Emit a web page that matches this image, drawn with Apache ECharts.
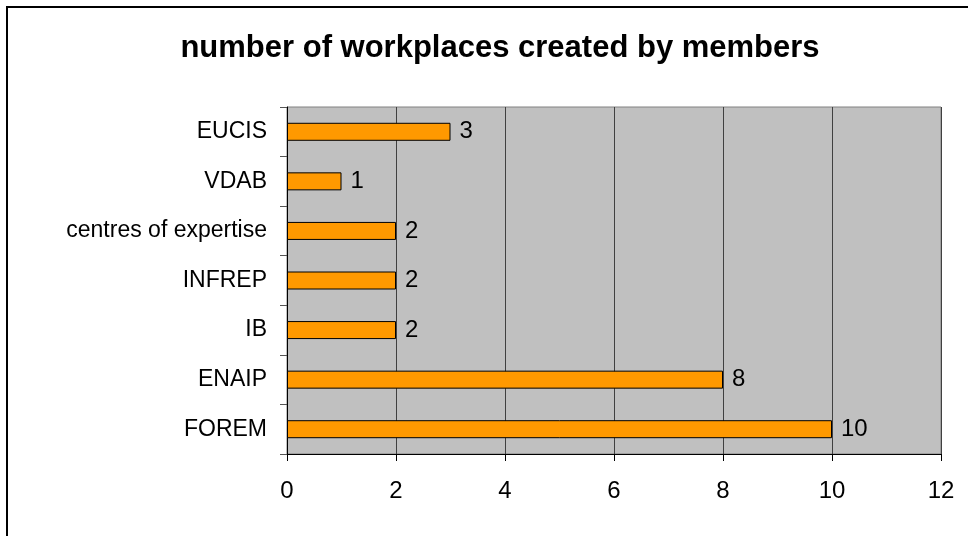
<!DOCTYPE html>
<html>
<head>
<meta charset="utf-8">
<script src="https://cdn.jsdelivr.net/npm/echarts@6/dist/echarts.min.js"></script>
<style>
  html, body { margin: 0; padding: 0; background: #fff; }
  #chart { width: 968px; height: 536px; }
</style>
</head>
<body>
<div id="chart"></div>
<script>
var categories = ['FOREM', 'ENAIP', 'IB', 'INFREP', 'centres of expertise', 'VDAB', 'EUCIS'];
var workplaces = [10, 8, 2, 2, 2, 1, 3];
var xTicks = [0, 2, 4, 6, 8, 10, 12];

var font = '"Liberation Sans", Arial, sans-serif';

var chart = echarts.init(document.getElementById('chart'));
chart.setOption({
    animation: false,
    backgroundColor: '#ffffff',
    title: {
        text: 'number of workplaces created by members',
        left: 495,
        textAlign: 'center',
        top: 28,
        textStyle: {
            fontFamily: font,
            fontSize: 31,
            fontWeight: 'bold',
            color: '#000'
        }
    },
    graphic: [{
        type: 'polyline',
        shape: { points: [[7, 536], [7, 7], [968, 7]] },
        style: { stroke: '#000', lineWidth: 2, fill: null }
    }],
    grid: {
        left: 287,
        right: 27,
        top: 107,
        bottom: 82,
        show: true,
        backgroundColor: '#c0c0c0',
        borderColor: '#808080',
        borderWidth: 1
    },
    xAxis: {
        type: 'value',
        min: xTicks[0],
        max: xTicks[xTicks.length - 1],
        interval: 2,
        axisLine: { show: true, lineStyle: { color: '#000', width: 1 } },
        axisTick: { show: true, length: 7, lineStyle: { color: '#000' } },
        axisLabel: {
            margin: 25,
            fontFamily: font,
            fontSize: 24,
            color: '#000'
        },
        splitLine: { show: true, lineStyle: { color: '#404040', width: 1 } }
    },
    yAxis: {
        type: 'category',
        data: categories,
        axisLine: { show: true, lineStyle: { color: '#000', width: 1 } },
        axisTick: { show: true, length: 7, alignWithLabel: false, lineStyle: { color: '#555' } },
        axisLabel: {
            margin: 20,
            fontFamily: font,
            fontSize: 23,
            color: '#000'
        },
        splitLine: { show: false }
    },
    series: [{
        type: 'bar',
        data: workplaces,
        barWidth: 18,
        itemStyle: {
            color: '#ff9900',
            borderColor: '#000',
            borderWidth: 1
        },
        label: {
            show: true,
            position: 'right',
            distance: 9,
            fontFamily: font,
            fontSize: 24,
            color: '#000'
        }
    }]
});
</script>
</body>
</html>
